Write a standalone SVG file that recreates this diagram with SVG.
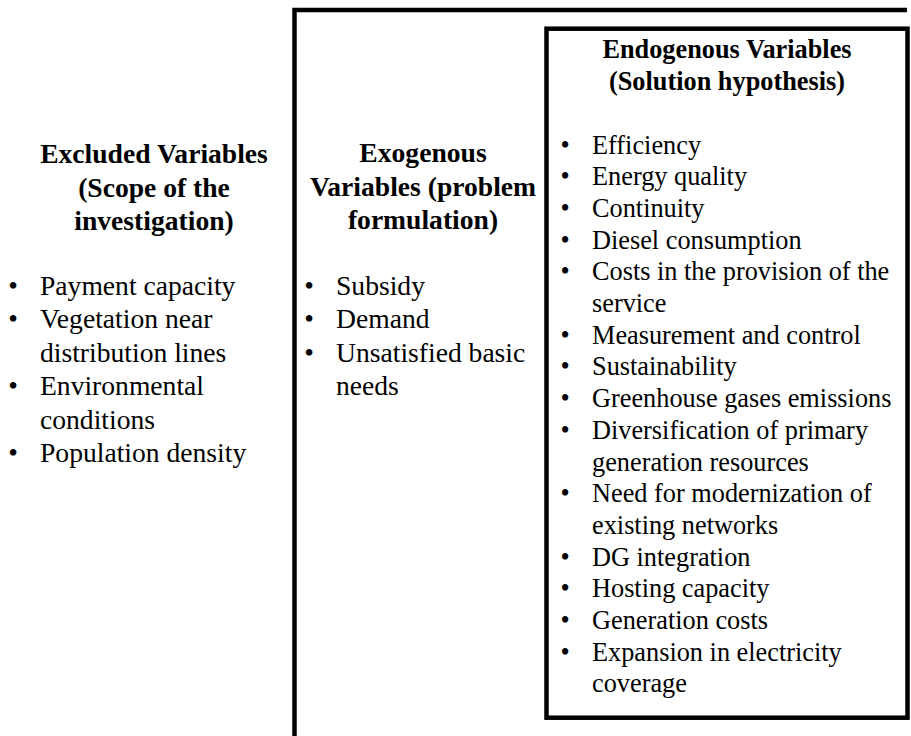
<svg xmlns="http://www.w3.org/2000/svg" width="911" height="736" viewBox="0 0 911 736">
<style>
.box{fill:none;stroke:#000;stroke-width:4.5}
.h{font-family:"Liberation Serif","Times New Roman",serif;font-weight:bold;fill:#000;text-anchor:middle}
.t{font-family:"Liberation Serif","Times New Roman",serif;fill:#000}
.a{font-size:27.6px}
.b{font-size:26.3px}
</style>
<rect width="911" height="736" fill="#fff"/>
<g id="connectors"></g>
<g id="excluded">
<text class="h a" x="154" y="163">Excluded Variables</text>
<text class="h a" x="154" y="196.5">(Scope of the</text>
<text class="h a" x="154" y="230">investigation)</text>
<text class="t a" x="8.2" y="295">•</text><text class="t a" x="40" y="295">Payment capacity</text>
<text class="t a" x="8.2" y="328.4">•</text><text class="t a" x="40" y="328.4">Vegetation near</text>
<text class="t a" x="40" y="361.8">distribution lines</text>
<text class="t a" x="8.2" y="395.2">•</text><text class="t a" x="40" y="395.2">Environmental</text>
<text class="t a" x="40" y="428.6">conditions</text>
<text class="t a" x="8.2" y="462">•</text><text class="t a" x="40" y="462">Population density</text>
</g>
<g id="exogenous">
<path class="box" d="M294.5,736 V10 H907"/>
<text class="h a" x="423" y="162">Exogenous</text>
<text class="h a" x="423" y="195.5">Variables (problem</text>
<text class="h a" x="423" y="229">formulation)</text>
<text class="t a" x="304.2" y="295">•</text><text class="t a" x="336" y="295">Subsidy</text>
<text class="t a" x="304.2" y="328.4">•</text><text class="t a" x="336" y="328.4">Demand</text>
<text class="t a" x="304.2" y="361.8">•</text><text class="t a" x="336" y="361.8">Unsatisfied basic</text>
<text class="t a" x="336" y="395.2">needs</text>
</g>
<g id="endogenous">
<rect class="box" x="546.5" y="28.7" width="361" height="689"/>
<text class="h b" x="727" y="58">Endogenous Variables</text>
<text class="h b" x="727" y="90">(Solution hypothesis)</text>
<text class="t b" x="560.4" y="153.5">•</text><text class="t b" x="592" y="153.5">Efficiency</text>
<text class="t b" x="560.4" y="185.2">•</text><text class="t b" x="592" y="185.2">Energy quality</text>
<text class="t b" x="560.4" y="216.9">•</text><text class="t b" x="592" y="216.9">Continuity</text>
<text class="t b" x="560.4" y="248.6">•</text><text class="t b" x="592" y="248.6">Diesel consumption</text>
<text class="t b" x="560.4" y="280.3">•</text><text class="t b" x="592" y="280.3">Costs in the provision of the</text>
<text class="t b" x="592" y="312">service</text>
<text class="t b" x="560.4" y="343.7">•</text><text class="t b" x="592" y="343.7">Measurement and control</text>
<text class="t b" x="560.4" y="375.4">•</text><text class="t b" x="592" y="375.4">Sustainability</text>
<text class="t b" x="560.4" y="407.1">•</text><text class="t b" x="592" y="407.1">Greenhouse gases emissions</text>
<text class="t b" x="560.4" y="438.8">•</text><text class="t b" x="592" y="438.8">Diversification of primary</text>
<text class="t b" x="592" y="470.5">generation resources</text>
<text class="t b" x="560.4" y="502.2">•</text><text class="t b" x="592" y="502.2">Need for modernization of</text>
<text class="t b" x="592" y="533.9">existing networks</text>
<text class="t b" x="560.4" y="565.6">•</text><text class="t b" x="592" y="565.6">DG integration</text>
<text class="t b" x="560.4" y="597.3">•</text><text class="t b" x="592" y="597.3">Hosting capacity</text>
<text class="t b" x="560.4" y="629">•</text><text class="t b" x="592" y="629">Generation costs</text>
<text class="t b" x="560.4" y="660.7">•</text><text class="t b" x="592" y="660.7">Expansion in electricity</text>
<text class="t b" x="592" y="692.4">coverage</text>
</g>
</svg>
